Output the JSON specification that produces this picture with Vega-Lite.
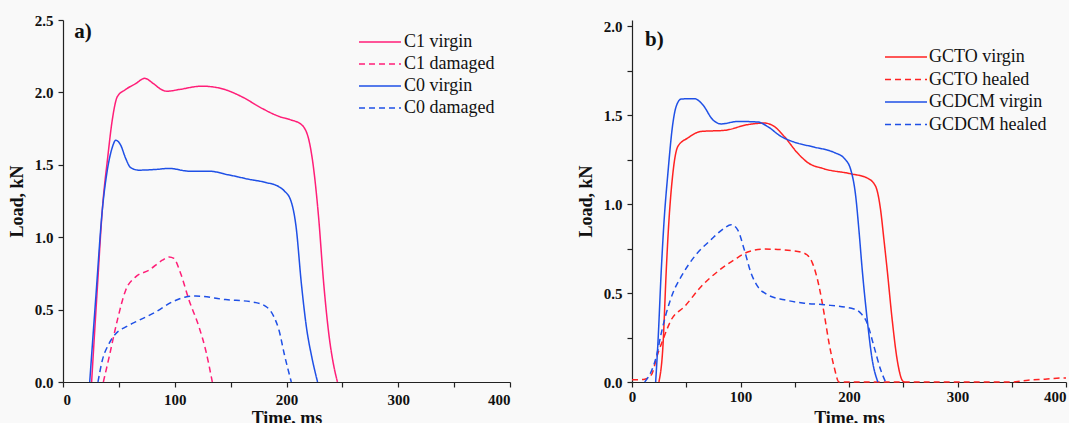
{
  "$schema": "https://vega.github.io/schema/vega-lite/v6.json",
  "background": "#f9f9f9",
  "padding": {"left": 8, "top": 13, "right": 0, "bottom": 0},
  "spacing": 66,
  "config": {
    "view": {"stroke": null},
    "font": "Liberation Serif",
    "axis": {
      "grid": false,
      "labelFont": "Liberation Serif", "labelFontWeight": "bold", "labelFontSize": 15, "labelColor": "#111",
      "titleFont": "Liberation Serif", "titleFontWeight": "bold", "titleFontSize": 18, "titleColor": "#111",
      "domainColor": "#222", "tickColor": "#222", "domainWidth": 1.2, "tickWidth": 1.2, "tickSize": 5
    }
  },
  "resolve": {
    "scale": {"x": "independent", "y": "independent", "color": "independent", "strokeDash": "independent"},
    "legend": {"color": "independent", "strokeDash": "independent"}
  },
  "hconcat": [
    {
      "width": 447,
      "height": 362,
      "layer": [
        {
          "data": {"values": [
            {"s": "C1 virgin", "t": 25.6, "L": 0},
            {"s": "C1 virgin", "t": 30.5, "L": 0.62},
            {"s": "C1 virgin", "t": 35.5, "L": 1.22},
            {"s": "C1 virgin", "t": 40, "L": 1.55},
            {"s": "C1 virgin", "t": 44.1, "L": 1.81},
            {"s": "C1 virgin", "t": 48.6, "L": 1.97},
            {"s": "C1 virgin", "t": 56, "L": 2.02},
            {"s": "C1 virgin", "t": 65, "L": 2.06},
            {"s": "C1 virgin", "t": 73, "L": 2.097},
            {"s": "C1 virgin", "t": 81, "L": 2.06},
            {"s": "C1 virgin", "t": 88, "L": 2.02},
            {"s": "C1 virgin", "t": 93, "L": 2.008},
            {"s": "C1 virgin", "t": 104, "L": 2.02},
            {"s": "C1 virgin", "t": 124, "L": 2.043},
            {"s": "C1 virgin", "t": 140, "L": 2.03},
            {"s": "C1 virgin", "t": 160, "L": 1.97},
            {"s": "C1 virgin", "t": 178, "L": 1.89},
            {"s": "C1 virgin", "t": 193, "L": 1.835},
            {"s": "C1 virgin", "t": 204, "L": 1.81},
            {"s": "C1 virgin", "t": 213, "L": 1.78},
            {"s": "C1 virgin", "t": 219.4, "L": 1.69},
            {"s": "C1 virgin", "t": 224, "L": 1.49},
            {"s": "C1 virgin", "t": 228.7, "L": 1.14},
            {"s": "C1 virgin", "t": 233.3, "L": 0.68},
            {"s": "C1 virgin", "t": 237.9, "L": 0.33},
            {"s": "C1 virgin", "t": 242.6, "L": 0.1},
            {"s": "C1 virgin", "t": 245.6, "L": 0},
            {"s": "C1 damaged", "t": 36.1, "L": 0},
            {"s": "C1 damaged", "t": 41.2, "L": 0.17},
            {"s": "C1 damaged", "t": 48.6, "L": 0.426},
            {"s": "C1 damaged", "t": 56.1, "L": 0.634},
            {"s": "C1 damaged", "t": 65, "L": 0.726},
            {"s": "C1 damaged", "t": 76.9, "L": 0.772},
            {"s": "C1 damaged", "t": 88.9, "L": 0.841},
            {"s": "C1 damaged", "t": 94.9, "L": 0.864},
            {"s": "C1 damaged", "t": 99.3, "L": 0.853},
            {"s": "C1 damaged", "t": 105.3, "L": 0.749},
            {"s": "C1 damaged", "t": 112.8, "L": 0.565},
            {"s": "C1 damaged", "t": 121.7, "L": 0.38},
            {"s": "C1 damaged", "t": 127.7, "L": 0.219},
            {"s": "C1 damaged", "t": 133.6, "L": 0},
            {"s": "C0 virgin", "t": 23.9, "L": 0},
            {"s": "C0 virgin", "t": 29.5, "L": 0.6},
            {"s": "C0 virgin", "t": 35.2, "L": 1.19},
            {"s": "C0 virgin", "t": 39.6, "L": 1.46},
            {"s": "C0 virgin", "t": 44.1, "L": 1.62},
            {"s": "C0 virgin", "t": 47.2, "L": 1.67},
            {"s": "C0 virgin", "t": 51.6, "L": 1.636},
            {"s": "C0 virgin", "t": 56.1, "L": 1.544},
            {"s": "C0 virgin", "t": 60.6, "L": 1.48},
            {"s": "C0 virgin", "t": 68, "L": 1.463},
            {"s": "C0 virgin", "t": 83, "L": 1.468},
            {"s": "C0 virgin", "t": 95, "L": 1.475},
            {"s": "C0 virgin", "t": 113, "L": 1.456},
            {"s": "C0 virgin", "t": 130.6, "L": 1.456},
            {"s": "C0 virgin", "t": 148.5, "L": 1.43},
            {"s": "C0 virgin", "t": 166.4, "L": 1.4},
            {"s": "C0 virgin", "t": 181.4, "L": 1.378},
            {"s": "C0 virgin", "t": 193.3, "L": 1.348},
            {"s": "C0 virgin", "t": 198, "L": 1.32},
            {"s": "C0 virgin", "t": 204, "L": 1.25},
            {"s": "C0 virgin", "t": 208.6, "L": 1.07},
            {"s": "C0 virgin", "t": 213.3, "L": 0.68},
            {"s": "C0 virgin", "t": 217.9, "L": 0.375},
            {"s": "C0 virgin", "t": 222.7, "L": 0.17},
            {"s": "C0 virgin", "t": 227.8, "L": 0},
            {"s": "C0 damaged", "t": 31.3, "L": 0},
            {"s": "C0 damaged", "t": 35.2, "L": 0.15},
            {"s": "C0 damaged", "t": 41.2, "L": 0.265},
            {"s": "C0 damaged", "t": 47.2, "L": 0.334},
            {"s": "C0 damaged", "t": 56.1, "L": 0.38},
            {"s": "C0 damaged", "t": 68, "L": 0.426},
            {"s": "C0 damaged", "t": 83, "L": 0.484},
            {"s": "C0 damaged", "t": 97.8, "L": 0.553},
            {"s": "C0 damaged", "t": 109.8, "L": 0.587},
            {"s": "C0 damaged", "t": 118.7, "L": 0.594},
            {"s": "C0 damaged", "t": 145.6, "L": 0.569},
            {"s": "C0 damaged", "t": 169.4, "L": 0.553},
            {"s": "C0 damaged", "t": 181.4, "L": 0.523},
            {"s": "C0 damaged", "t": 188.8, "L": 0.45},
            {"s": "C0 damaged", "t": 193.3, "L": 0.357},
            {"s": "C0 damaged", "t": 198.1, "L": 0.19},
            {"s": "C0 damaged", "t": 204.3, "L": 0}
          ]},
          "mark": {"type": "line", "interpolate": "monotone", "strokeWidth": 1.5},
          "encoding": {
            "x": {"field": "t", "type": "quantitative", "scale": {"domain": [0, 400], "nice": false},
              "axis": {"title": "Time, ms", "values": [0, 50, 100, 150, 200, 250, 300, 350, 400], "labelExpr": "datum.value % 100 === 0 ? datum.label : ''", "labelPadding": 5, "titlePadding": 2}},
            "y": {"field": "L", "type": "quantitative", "scale": {"domain": [0, 2.5], "nice": false},
              "axis": {"title": "Load, kN", "values": [0, 0.25, 0.5, 0.75, 1, 1.25, 1.5, 1.75, 2, 2.25, 2.5], "format": ".1f", "labelExpr": "datum.value % 0.5 === 0 ? datum.label : ''", "labelPadding": 5, "titlePadding": 8}},
            "color": {"field": "s", "type": "nominal",
              "scale": {"domain": ["C1 virgin", "C1 damaged", "C0 virgin", "C0 damaged"], "range": ["#ff1e78", "#ff1e78", "#1f50e6", "#1f50e6"]},
              "legend": {"title": null, "orient": "none", "legendX": 306, "legendY": 11, "padding": 0, "symbolType": "M-2.1,0H2.1", "symbolSize": 400, "symbolStrokeWidth": 1.5, "labelFont": "Liberation Serif", "labelFontSize": 18, "labelColor": "#111", "labelOffset": 13, "rowPadding": 2}},
            "strokeDash": {"field": "s", "type": "nominal",
              "scale": {"domain": ["C1 virgin", "C1 damaged", "C0 virgin", "C0 damaged"], "range": [[1, 0], [6, 4], [1, 0], [6, 4]]},
              "legend": {"title": null, "orient": "none", "legendX": 306, "legendY": 11, "padding": 0, "symbolType": "M-2.1,0H2.1", "symbolSize": 400, "symbolStrokeWidth": 1.5, "labelFont": "Liberation Serif", "labelFontSize": 18, "labelColor": "#111", "labelOffset": 13, "rowPadding": 2}}
          }
        },
        {
          "data": {"values": [{"lbl": "a)"}]},
          "mark": {"type": "text", "font": "Liberation Serif", "fontWeight": "bold", "fontSize": 21, "align": "left", "baseline": "middle", "color": "#111"},
          "encoding": {"x": {"datum": 10}, "y": {"datum": 2.42}, "text": {"field": "lbl"}}
        }
      ]
    },
    {
      "width": 434,
      "height": 362,
      "layer": [
        {
          "data": {"values": [
            {"s": "GCTO virgin", "t": 24.8, "L": 0},
            {"s": "GCTO virgin", "t": 28.5, "L": 0.2},
            {"s": "GCTO virgin", "t": 31.6, "L": 0.63},
            {"s": "GCTO virgin", "t": 33.1, "L": 0.81},
            {"s": "GCTO virgin", "t": 37.7, "L": 1.174},
            {"s": "GCTO virgin", "t": 42.3, "L": 1.324},
            {"s": "GCTO virgin", "t": 51.4, "L": 1.371},
            {"s": "GCTO virgin", "t": 63.8, "L": 1.408},
            {"s": "GCTO virgin", "t": 85.2, "L": 1.414},
            {"s": "GCTO virgin", "t": 106.6, "L": 1.446},
            {"s": "GCTO virgin", "t": 121.9, "L": 1.455},
            {"s": "GCTO virgin", "t": 131.1, "L": 1.436},
            {"s": "GCTO virgin", "t": 140.3, "L": 1.38},
            {"s": "GCTO virgin", "t": 152.5, "L": 1.287},
            {"s": "GCTO virgin", "t": 161.7, "L": 1.234},
            {"s": "GCTO virgin", "t": 177, "L": 1.198},
            {"s": "GCTO virgin", "t": 201.6, "L": 1.17},
            {"s": "GCTO virgin", "t": 216.8, "L": 1.146},
            {"s": "GCTO virgin", "t": 224.5, "L": 1.1},
            {"s": "GCTO virgin", "t": 229.1, "L": 0.968},
            {"s": "GCTO virgin", "t": 232.2, "L": 0.8},
            {"s": "GCTO virgin", "t": 235.2, "L": 0.63},
            {"s": "GCTO virgin", "t": 239.8, "L": 0.35},
            {"s": "GCTO virgin", "t": 244.4, "L": 0.125},
            {"s": "GCTO virgin", "t": 249, "L": 0.01},
            {"s": "GCTO virgin", "t": 251, "L": 0},
            {"s": "GCTO healed", "t": 0, "L": 0.012},
            {"s": "GCTO healed", "t": 11.7, "L": 0.016},
            {"s": "GCTO healed", "t": 17.8, "L": 0.04},
            {"s": "GCTO healed", "t": 23.9, "L": 0.162},
            {"s": "GCTO healed", "t": 28.5, "L": 0.237},
            {"s": "GCTO healed", "t": 36.2, "L": 0.35},
            {"s": "GCTO healed", "t": 48.4, "L": 0.424},
            {"s": "GCTO healed", "t": 63.8, "L": 0.537},
            {"s": "GCTO healed", "t": 79, "L": 0.621},
            {"s": "GCTO healed", "t": 94.3, "L": 0.687},
            {"s": "GCTO healed", "t": 106.6, "L": 0.73},
            {"s": "GCTO healed", "t": 121.9, "L": 0.747},
            {"s": "GCTO healed", "t": 146.4, "L": 0.739},
            {"s": "GCTO healed", "t": 158.7, "L": 0.724},
            {"s": "GCTO healed", "t": 166.3, "L": 0.668},
            {"s": "GCTO healed", "t": 172.4, "L": 0.537},
            {"s": "GCTO healed", "t": 177, "L": 0.387},
            {"s": "GCTO healed", "t": 181.6, "L": 0.219},
            {"s": "GCTO healed", "t": 186.2, "L": 0.087},
            {"s": "GCTO healed", "t": 190.8, "L": 0},
            {"s": "GCTO healed", "t": 300, "L": 0},
            {"s": "GCTO healed", "t": 350, "L": 0},
            {"s": "GCTO healed", "t": 365, "L": 0.01},
            {"s": "GCTO healed", "t": 380.7, "L": 0.016},
            {"s": "GCTO healed", "t": 396, "L": 0.022},
            {"s": "GCTO healed", "t": 400, "L": 0.022},
            {"s": "GCDCM virgin", "t": 21.8, "L": 0},
            {"s": "GCDCM virgin", "t": 23.9, "L": 0.22},
            {"s": "GCDCM virgin", "t": 27, "L": 0.63},
            {"s": "GCDCM virgin", "t": 29.4, "L": 0.89},
            {"s": "GCDCM virgin", "t": 33.1, "L": 1.174},
            {"s": "GCDCM virgin", "t": 37.7, "L": 1.455},
            {"s": "GCDCM virgin", "t": 40.8, "L": 1.55},
            {"s": "GCDCM virgin", "t": 45.4, "L": 1.59},
            {"s": "GCDCM virgin", "t": 57.6, "L": 1.592},
            {"s": "GCDCM virgin", "t": 65.2, "L": 1.558},
            {"s": "GCDCM virgin", "t": 74.4, "L": 1.474},
            {"s": "GCDCM virgin", "t": 82.1, "L": 1.45},
            {"s": "GCDCM virgin", "t": 97.4, "L": 1.464},
            {"s": "GCDCM virgin", "t": 115.8, "L": 1.461},
            {"s": "GCDCM virgin", "t": 124.9, "L": 1.436},
            {"s": "GCDCM virgin", "t": 137.3, "L": 1.38},
            {"s": "GCDCM virgin", "t": 149.5, "L": 1.348},
            {"s": "GCDCM virgin", "t": 167.8, "L": 1.32},
            {"s": "GCDCM virgin", "t": 186.2, "L": 1.29},
            {"s": "GCDCM virgin", "t": 195.4, "L": 1.258},
            {"s": "GCDCM virgin", "t": 201.6, "L": 1.193},
            {"s": "GCDCM virgin", "t": 206.2, "L": 1.043},
            {"s": "GCDCM virgin", "t": 209.2, "L": 0.85},
            {"s": "GCDCM virgin", "t": 212.2, "L": 0.63},
            {"s": "GCDCM virgin", "t": 216.8, "L": 0.35},
            {"s": "GCDCM virgin", "t": 221.4, "L": 0.125},
            {"s": "GCDCM virgin", "t": 226.6, "L": 0},
            {"s": "GCDCM healed", "t": 11.7, "L": 0},
            {"s": "GCDCM healed", "t": 17.8, "L": 0.06},
            {"s": "GCDCM healed", "t": 22.4, "L": 0.143},
            {"s": "GCDCM healed", "t": 27, "L": 0.275},
            {"s": "GCDCM healed", "t": 31.6, "L": 0.387},
            {"s": "GCDCM healed", "t": 37.7, "L": 0.5},
            {"s": "GCDCM healed", "t": 45.4, "L": 0.593},
            {"s": "GCDCM healed", "t": 57.6, "L": 0.705},
            {"s": "GCDCM healed", "t": 72.9, "L": 0.8},
            {"s": "GCDCM healed", "t": 85.2, "L": 0.865},
            {"s": "GCDCM healed", "t": 91.3, "L": 0.884},
            {"s": "GCDCM healed", "t": 97.4, "L": 0.855},
            {"s": "GCDCM healed", "t": 103.5, "L": 0.743},
            {"s": "GCDCM healed", "t": 109.7, "L": 0.612},
            {"s": "GCDCM healed", "t": 115.8, "L": 0.537},
            {"s": "GCDCM healed", "t": 124.9, "L": 0.49},
            {"s": "GCDCM healed", "t": 140.3, "L": 0.462},
            {"s": "GCDCM healed", "t": 158.7, "L": 0.443},
            {"s": "GCDCM healed", "t": 177, "L": 0.434},
            {"s": "GCDCM healed", "t": 204.6, "L": 0.41},
            {"s": "GCDCM healed", "t": 210.7, "L": 0.387},
            {"s": "GCDCM healed", "t": 216.8, "L": 0.33},
            {"s": "GCDCM healed", "t": 223, "L": 0.2},
            {"s": "GCDCM healed", "t": 229.1, "L": 0.07},
            {"s": "GCDCM healed", "t": 233.7, "L": 0}
          ]},
          "mark": {"type": "line", "interpolate": "monotone", "strokeWidth": 1.5},
          "encoding": {
            "x": {"field": "t", "type": "quantitative", "scale": {"domain": [0, 400], "nice": false},
              "axis": {"title": "Time, ms", "values": [0, 50, 100, 150, 200, 250, 300, 350, 400], "labelExpr": "datum.value % 100 === 0 ? datum.label : ''",
                "labelAlign": {"condition": {"test": "datum.value === 400", "value": "right"}, "value": "center"},
                "labelPadding": 2, "titlePadding": 5}},
            "y": {"field": "L", "type": "quantitative", "scale": {"domain": [0, 2.034], "nice": false},
              "axis": {"title": "Load, kN", "values": [0, 0.25, 0.5, 0.75, 1, 1.25, 1.5, 1.75, 2], "format": ".1f", "labelExpr": "datum.value % 0.5 === 0 ? datum.label : ''", "labelPadding": 5, "titlePadding": 8}},
            "color": {"field": "s", "type": "nominal",
              "scale": {"domain": ["GCTO virgin", "GCTO healed", "GCDCM virgin", "GCDCM healed"], "range": ["#ff2222", "#ff2222", "#1f50e6", "#1f50e6"]},
              "legend": {"title": null, "orient": "none", "legendX": 263, "legendY": 26, "padding": 0, "symbolType": "M-2.1,0H2.1", "symbolSize": 400, "symbolStrokeWidth": 1.5, "labelFont": "Liberation Serif", "labelFontSize": 18, "labelColor": "#111", "labelOffset": 12, "rowPadding": 2.5}},
            "strokeDash": {"field": "s", "type": "nominal",
              "scale": {"domain": ["GCTO virgin", "GCTO healed", "GCDCM virgin", "GCDCM healed"], "range": [[1, 0], [6, 4], [1, 0], [6, 4]]},
              "legend": {"title": null, "orient": "none", "legendX": 263, "legendY": 26, "padding": 0, "symbolType": "M-2.1,0H2.1", "symbolSize": 400, "symbolStrokeWidth": 1.5, "labelFont": "Liberation Serif", "labelFontSize": 18, "labelColor": "#111", "labelOffset": 12, "rowPadding": 2.5}}
          }
        },
        {
          "data": {"values": [{"lbl": "b)"}]},
          "mark": {"type": "text", "font": "Liberation Serif", "fontWeight": "bold", "fontSize": 21, "align": "left", "baseline": "middle", "color": "#111"},
          "encoding": {"x": {"datum": 12}, "y": {"datum": 1.92}, "text": {"field": "lbl"}}
        }
      ]
    }
  ]
}
